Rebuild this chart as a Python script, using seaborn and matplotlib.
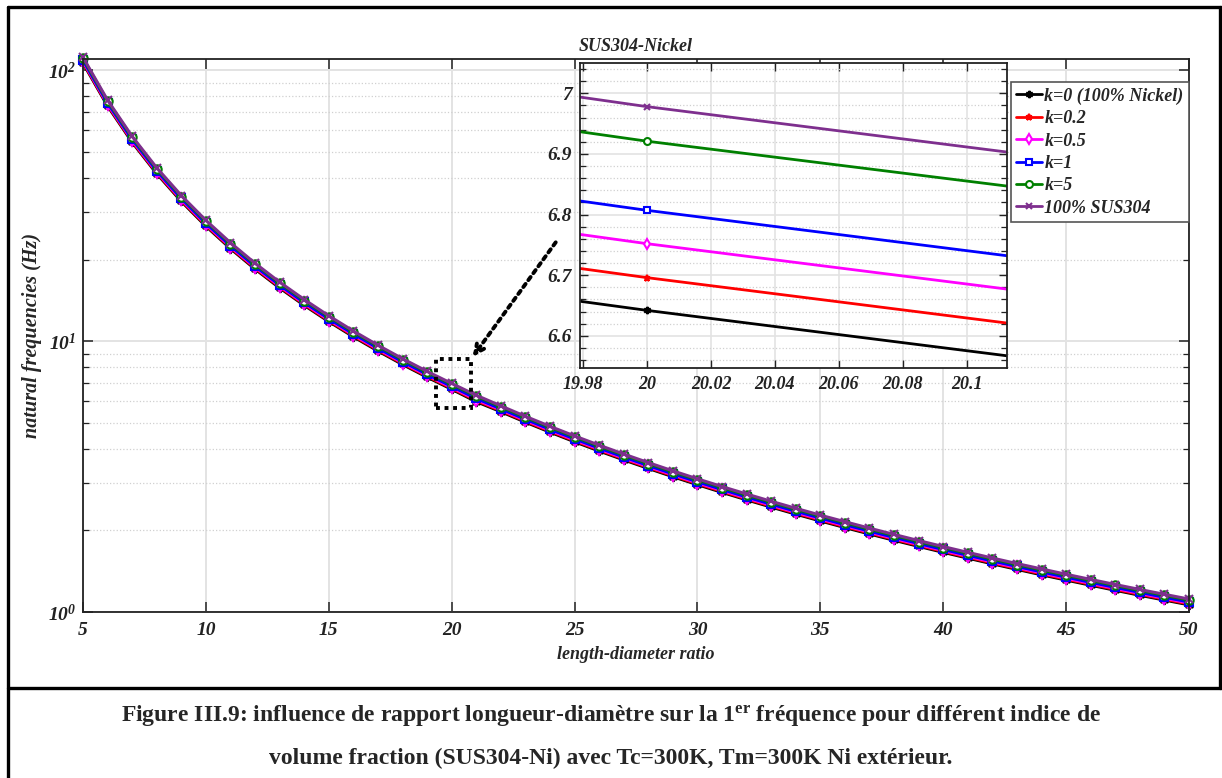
import numpy as np
import pandas as pd
import matplotlib.pyplot as plt
import seaborn as sns
from matplotlib.lines import Line2D
from matplotlib.patches import Rectangle
from matplotlib.ticker import FixedLocator, LogLocator, NullFormatter

# Données (rapport L/D de 5 à 50)
ratio = list(range(5, 51))

f_k0 = [106.3, 73.81, 54.22, 41.52, 32.80, 26.57, 21.96, 18.45, 15.72, 13.56,
        11.81, 10.38, 9.194, 8.201, 7.360, 6.642, 5.977, 5.490, 5.023, 4.613,
        4.251, 3.930, 3.645, 3.389, 3.159, 2.952, 2.765, 2.595, 2.440, 2.298,
        2.169, 2.050, 1.941, 1.840, 1.747, 1.661, 1.581, 1.506, 1.437, 1.372,
        1.312, 1.256, 1.203, 1.153, 1.107, 1.063]
f_k02 = [107.1, 74.39, 54.65, 41.84, 33.06, 26.78, 22.13, 18.60, 15.85, 13.66,
         11.90, 10.46, 9.266, 8.265, 7.418, 6.696, 6.031, 5.533, 5.062, 4.649,
         4.285, 3.962, 3.674, 3.416, 3.184, 2.976, 2.787, 2.615, 2.459, 2.317,
         2.186, 2.066, 1.956, 1.855, 1.761, 1.674, 1.593, 1.518, 1.448, 1.383,
         1.322, 1.266, 1.212, 1.162, 1.115, 1.071]
f_k05 = [108.0, 75.03, 55.12, 42.20, 33.35, 27.01, 22.32, 18.76, 15.98, 13.78,
         12.00, 10.55, 9.346, 8.336, 7.482, 6.752, 6.087, 5.581, 5.106, 4.689,
         4.322, 3.996, 3.705, 3.445, 3.212, 3.001, 2.811, 2.638, 2.480, 2.336,
         2.205, 2.084, 1.973, 1.870, 1.776, 1.688, 1.607, 1.531, 1.461, 1.395,
         1.334, 1.276, 1.223, 1.172, 1.125, 1.080]
f_k1 = [108.9, 75.64, 55.57, 42.55, 33.62, 27.23, 22.50, 18.91, 16.11, 13.89,
        12.10, 10.64, 9.422, 8.404, 7.543, 6.807, 6.142, 5.626, 5.148, 4.727,
        4.357, 4.028, 3.735, 3.473, 3.238, 3.026, 2.834, 2.659, 2.500, 2.356,
        2.223, 2.101, 1.989, 1.886, 1.790, 1.702, 1.620, 1.544, 1.473, 1.407,
        1.345, 1.287, 1.233, 1.182, 1.134, 1.089]
f_k5 = [110.7, 76.89, 56.49, 43.25, 34.17, 27.68, 22.88, 19.22, 16.38, 14.12,
        12.30, 10.81, 9.578, 8.543, 7.668, 6.921, 6.264, 5.719, 5.232, 4.806,
        4.429, 4.095, 3.797, 3.531, 3.291, 3.076, 2.880, 2.703, 2.542, 2.394,
        2.260, 2.136, 2.022, 1.917, 1.820, 1.730, 1.647, 1.569, 1.497, 1.430,
        1.367, 1.308, 1.253, 1.201, 1.153, 1.107]
f_sus = [111.6, 77.53, 56.96, 43.61, 34.46, 27.91, 23.07, 19.38, 16.51, 14.24,
         12.40, 10.90, 9.657, 8.614, 7.731, 6.978, 6.313, 5.767, 5.276, 4.845,
         4.466, 4.129, 3.829, 3.560, 3.319, 3.101, 2.904, 2.726, 2.563, 2.414,
         2.278, 2.154, 2.039, 1.933, 1.835, 1.744, 1.660, 1.582, 1.509, 1.442,
         1.378, 1.319, 1.263, 1.211, 1.162, 1.116]

series = [f_k0, f_k02, f_k05, f_k1, f_k5, f_sus]
noms = ['k=0 (100% Nickel)', 'k=0.2', 'k=0.5', 'k=1', 'k=5', '100% SUS304']
couleurs = ['#000000', '#ff0000', '#ff00ff', '#0000ff', '#008000', '#7e2f8e']
marqueurs = [(6, 1, 0), '*', 'd', 's', 'o', 'x']
remplis = [True, True, False, False, False, True]

x_ticks = [5, 10, 15, 20, 25, 30, 35, 40, 45, 50]
zoom_xticks = [19.98, 20.0, 20.02, 20.04, 20.06, 20.08, 20.1]
zoom_xlabels = ['19.98', '20', '20.02', '20.04', '20.06', '20.08', '20.1']
zoom_yticks = [6.6, 6.7, 6.8, 6.9, 7.0]
zoom_ylabels = ['6.6', '6.7', '6.8', '6.9', '7']

# Style
sns.set_theme(style='ticks')
plt.rcParams['font.family'] = ['Liberation Serif', 'DejaVu Serif']
plt.rcParams['mathtext.fontset'] = 'custom'
plt.rcParams['mathtext.rm'] = 'Liberation Serif'
plt.rcParams['mathtext.bf'] = 'Liberation Serif:bold'
plt.rcParams['mathtext.it'] = 'Liberation Serif:italic'
plt.rcParams['mathtext.bfit'] = 'Liberation Serif:italic:bold'

W, H = 1222, 778
fig = plt.figure(figsize=(W / 100, H / 100), dpi=100)
fig.patch.set_facecolor('white')

def fx(px):
    return px / W

def fy(py):
    return 1 - py / H

# Axe principal
ax = fig.add_axes([fx(83), fy(612), fx(1189 - 83), (612 - 59) / H])


def tracer(axe, ms, lw, clip):
    hs = []
    for vals, nom, c, m, plein in zip(series, noms, couleurs, marqueurs, remplis):
        sns.lineplot(x=ratio, y=vals, ax=axe, color=c, marker=m, markersize=ms,
                     linewidth=lw, markeredgecolor=c, markeredgewidth=1.5,
                     markerfacecolor=c if plein else 'white', estimator=None,
                     clip_on=clip, label=nom)
        hs.append(axe.get_lines()[-1])
    return hs


tracer(ax, 6, 2.2, False)
ax.get_legend().remove()
ax.set_yscale('log')
ax.set_xlim(5, 50)
ax.set_ylim(1, 110)
ax.set_xticks(x_ticks)
ax.set_xticklabels([str(v) for v in x_ticks], fontsize=14, fontweight='bold', fontstyle='italic')
ax.yaxis.set_major_locator(FixedLocator([1, 10, 100]))
ax.set_yticklabels([r'$\mathbfit{10^{0}}$', r'$\mathbfit{10^{1}}$', r'$\mathbfit{10^{2}}$'], fontsize=14)
ax.yaxis.set_minor_locator(LogLocator(base=10, subs=np.arange(2, 10)))
ax.yaxis.set_minor_formatter(NullFormatter())
ax.tick_params(which='both', direction='in', top=True, right=True, colors='#222222', pad=7)
ax.tick_params(axis='y', pad=5)
ax.tick_params(which='major', length=7, width=1.1)
ax.tick_params(which='minor', length=4, width=0.9)
ax.grid(which='major', axis='both', color='#e3e3e3', linewidth=1.4, linestyle='-')
ax.grid(which='minor', axis='y', color='#d0d0d0', linewidth=0.9, linestyle=':')
for s in ax.spines.values():
    s.set_linewidth(1.3)
    s.set_color('#222222')
ax.set_xlabel('length-diameter ratio', fontsize=13, fontweight='bold', fontstyle='italic', labelpad=5)
ax.set_ylabel('natural frequencies (Hz)', fontsize=14.5, fontweight='bold', fontstyle='italic', labelpad=4)
ax.set_title('SUS304-Nickel', fontsize=13, fontweight='bold', fontstyle='italic', pad=6)

# Cadre pointillé autour de L/D = 20 et flèche vers le zoom
ax.add_patch(Rectangle((19.36, 5.66), 1.43, 2.92, fill=False, edgecolor='black',
                       linestyle=(0, (1, 1.2)), linewidth=2.8, zorder=5))
ax.annotate('', xy=(20.79, 8.58), xytext=(24.3, 23.6),
            arrowprops=dict(arrowstyle='->', linestyle=(0, (1, 1.2)), linewidth=2.8,
                            color='black', mutation_scale=16), zorder=6)

# Zoom (encart)
axz = fig.add_axes([fx(580), fy(368), fx(1007 - 580), (368 - 63) / H])
poignees = tracer(axz, 5, 2.0, True)
axz.get_legend().remove()
axz.set_xlim(19.979, 20.1126)
axz.set_ylim(6.547, 7.05)
axz.set_xticks(zoom_xticks)
axz.set_xticklabels(zoom_xlabels, fontsize=13, fontweight='bold', fontstyle='italic')
axz.set_yticks(zoom_yticks)
axz.set_yticklabels(zoom_ylabels, fontsize=14, fontweight='bold', fontstyle='italic')
axz.yaxis.set_minor_locator(FixedLocator(np.round(np.arange(6.56, 7.05, 0.02), 2)))
axz.tick_params(which='both', direction='in', top=True, right=True, colors='#222222', pad=6)
axz.tick_params(which='major', length=6, width=1.0)
axz.tick_params(which='minor', length=4, width=0.9)
axz.grid(which='major', axis='both', color='#e3e3e3', linewidth=1.2, linestyle='-')
axz.grid(which='minor', axis='y', color='#d0d0d0', linewidth=0.9, linestyle=':')
for s in axz.spines.values():
    s.set_linewidth(1.3)
    s.set_color('#222222')
axz.set_facecolor('white')

# Légende
leg = fig.legend(poignees, noms, loc='upper right', bbox_to_anchor=(fx(1189), fy(82)),
                 prop={'family': 'Liberation Serif', 'weight': 'bold', 'style': 'italic', 'size': 13},
                 frameon=True, fancybox=False, edgecolor='#555555', framealpha=1,
                 borderpad=0.3, labelspacing=0.3, handlelength=1.4, handletextpad=0.15,
                 borderaxespad=0, markerscale=1.0)
leg.get_frame().set_linewidth(1.2)

# Cadre de la page et légende de la figure
for (x0, y0, x1, y1) in [(8, 7, 1222, 7), (8, 7, 8, 778), (1220, 7, 1220, 688), (8, 688, 1222, 688)]:
    fig.add_artist(Line2D([fx(x0), fx(x1)], [fy(y0), fy(y1)], color='black', linewidth=2.4))

fig.text(fx(611), fy(716), r'Figure III.9: influence de rapport longueur-diamètre sur la 1$^{\mathbf{er}}$ fréquence pour différent indice de',
         ha='center', va='center', fontsize=17, fontweight='bold')
fig.text(fx(611), fy(758), 'volume fraction (SUS304-Ni) avec Tc=300K, Tm=300K Ni extérieur.',
         ha='center', va='center', fontsize=17, fontweight='bold')

fig.savefig('out.png', dpi=100, facecolor='white')
